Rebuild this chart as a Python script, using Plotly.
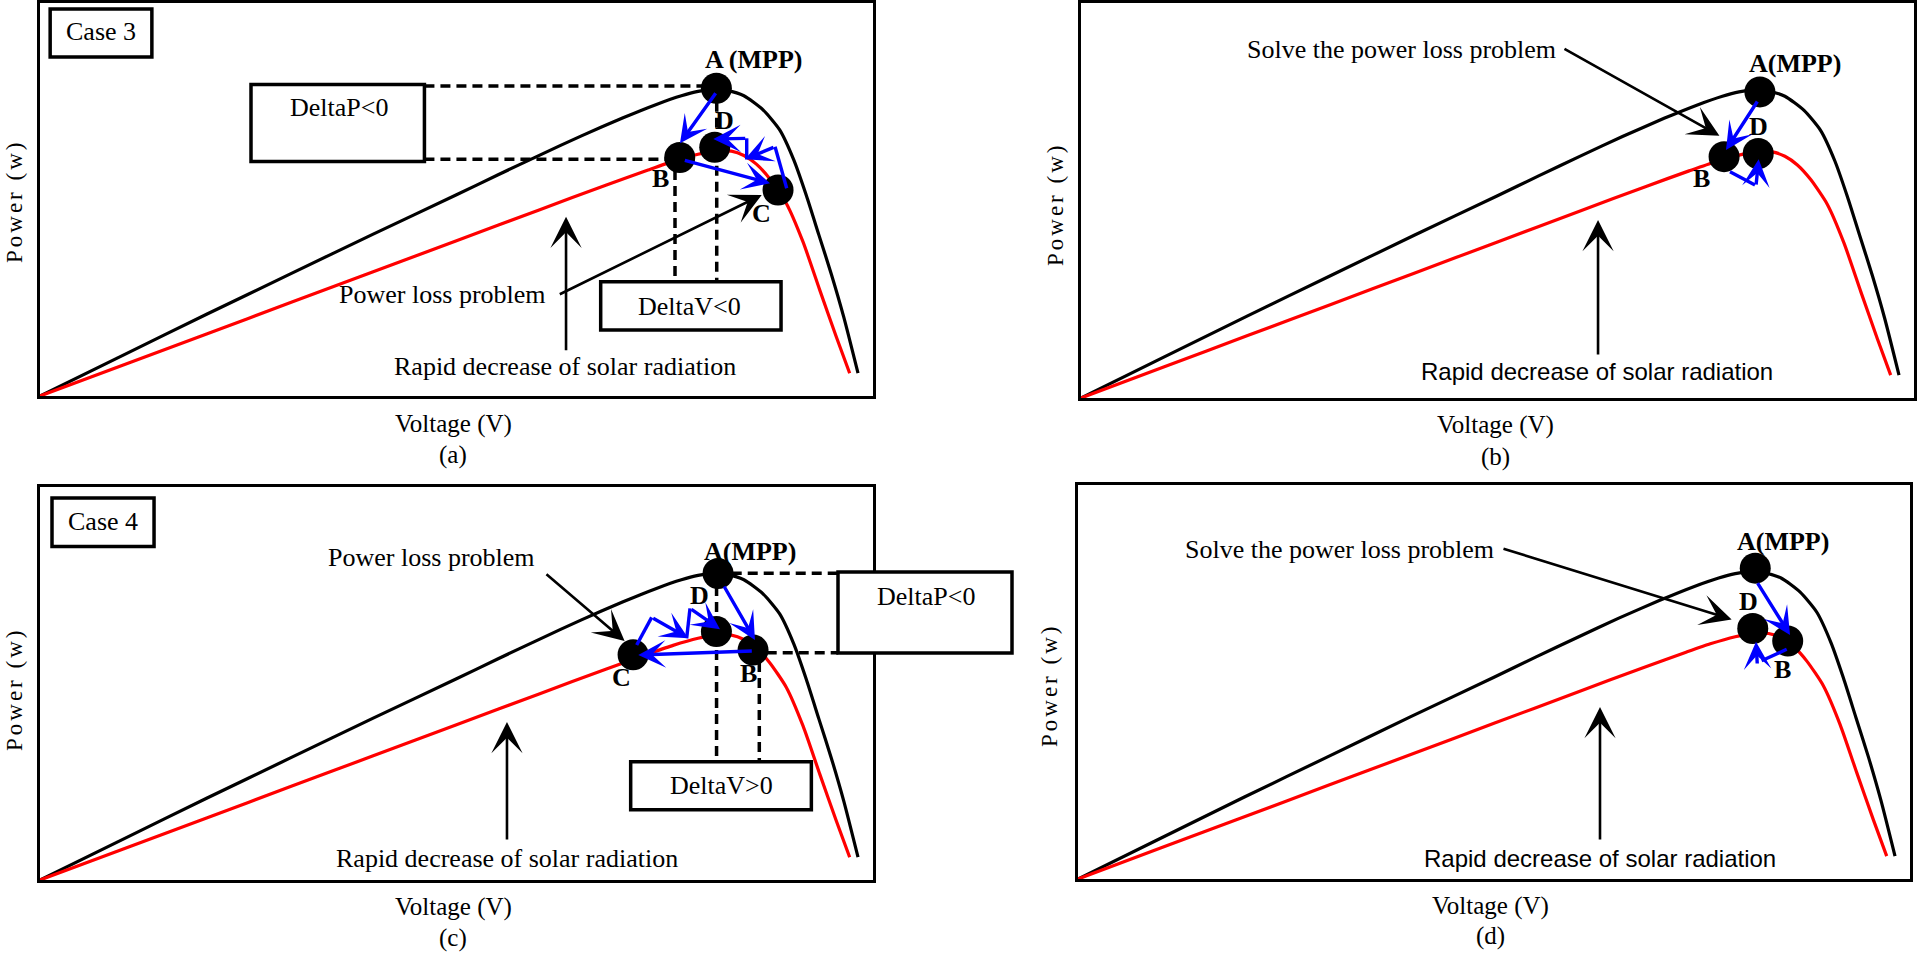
import plotly.graph_objects as go

# ---------------- data (normalised voltage / power) ----------------
v_std = [0, 0.1, 0.2, 0.3, 0.4, 0.5, 0.55, 0.6, 0.65, 0.7, 0.74, 0.77, 0.79, 0.808, 0.825, 0.845,
         0.868, 0.888, 0.905, 0.92, 0.935, 0.95, 0.965, 0.982]
p_std = [0, 0.104, 0.208, 0.31, 0.412, 0.512, 0.563, 0.613, 0.662, 0.708, 0.742, 0.764, 0.775, 0.780,
         0.777, 0.764, 0.728, 0.677, 0.60, 0.51, 0.41, 0.31, 0.20, 0.058]
v_low = [0, 0.1, 0.2, 0.3, 0.4, 0.5, 0.6, 0.68, 0.73, 0.76, 0.79, 0.81, 0.83, 0.845, 0.86, 0.876,
         0.896, 0.916, 0.936, 0.956, 0.972]
p_low = [0, 0.079, 0.158, 0.237, 0.316, 0.395, 0.474, 0.537, 0.575, 0.597, 0.615, 0.623, 0.623,
         0.612, 0.59, 0.553, 0.49, 0.392, 0.27, 0.15, 0.058]

pt_labels_a = ["A", "B", "C", "D"]
pt_v_a = [0.812, 0.768, 0.886, 0.810]
pt_p_a = [0.783, 0.607, 0.524, 0.633]
pt_labels_b = ["A", "B", "D"]
pt_v_b = [0.815, 0.772, 0.813]
pt_p_b = [0.775, 0.611, 0.619]
pt_labels_c = ["A", "B", "C", "D"]
pt_v_c = [0.814, 0.856, 0.712, 0.812]
pt_p_c = [0.780, 0.585, 0.573, 0.632]
pt_labels_d = ["A", "B", "D"]
pt_v_d = [0.814, 0.853, 0.811]
pt_p_d = [0.789, 0.604, 0.636]

# ---------------- layout helpers ----------------
W, H = 1917, 954
SERIF = "Liberation Serif, Times New Roman, serif"
SANS = "Liberation Sans, Arial, sans-serif"

# panel rectangles in pixels: left, right, top, bottom
PANELS = {
    "a": (40, 873, 3, 396, "x", "y"),
    "b": (1081, 1914, 3, 398, "x2", "y2"),
    "c": (40, 873, 487, 880, "x3", "y3"),
    "d": (1078, 1910, 485, 879, "x4", "y4"),
}

fig = go.Figure()

axis_style = dict(range=[0, 1], showgrid=False, zeroline=False, showticklabels=False,
                  ticks="", showline=True, mirror=True, linecolor="black", linewidth=3,
                  fixedrange=True)

for key, (l, r, t, b, xa, ya) in PANELS.items():
    xname = "xaxis" if xa == "x" else "xaxis" + xa[1:]
    yname = "yaxis" if ya == "y" else "yaxis" + ya[1:]
    fig.update_layout({
        xname: dict(domain=[l / W, r / W], anchor=ya, **axis_style),
        yname: dict(domain=[1 - b / H, 1 - t / H], anchor=xa, **axis_style),
    })

points = {
    "a": (pt_v_a, pt_p_a, pt_labels_a),
    "b": (pt_v_b, pt_p_b, pt_labels_b),
    "c": (pt_v_c, pt_p_c, pt_labels_c),
    "d": (pt_v_d, pt_p_d, pt_labels_d),
}

for key, (l, r, t, b, xa, ya) in PANELS.items():
    fig.add_trace(go.Scatter(x=v_std, y=p_std, mode="lines", xaxis=xa, yaxis=ya,
                             line=dict(color="black", width=3.2, shape="spline", smoothing=0.6),
                             hoverinfo="skip"))
    fig.add_trace(go.Scatter(x=v_low, y=p_low, mode="lines", xaxis=xa, yaxis=ya,
                             line=dict(color="#ff0000", width=3.2, shape="spline", smoothing=0.6),
                             hoverinfo="skip"))
    pv, pp, pl = points[key]
    fig.add_trace(go.Scatter(x=pv, y=pp, mode="markers", xaxis=xa, yaxis=ya, text=pl,
                             marker=dict(color="black", size=31), cliponaxis=False,
                             hoverinfo="text"))

annotations = []
shapes = []


def txt(key, x, y, s, size=26, bold=False, family=SERIF, ref="data", angle=0):
    xa, ya = PANELS[key][4], PANELS[key][5]
    if ref == "paper":
        xr, yr = "paper", "paper"
        x, y = x / W, 1 - y / H
    else:
        xr, yr = xa, ya
    annotations.append(dict(x=x, y=y, xref=xr, yref=yr, text=("<b>%s</b>" % s) if bold else s,
                            showarrow=False, xanchor="center", yanchor="middle", textangle=angle,
                            font=dict(family=family, size=size, color="black")))


def arrow(key, x0, y0, x1, y1, color="blue", width=3.4, size=1.35, head=3):
    xa, ya = PANELS[key][4], PANELS[key][5]
    annotations.append(dict(x=x1, y=y1, ax=x0, ay=y0, xref=xa, yref=ya, axref=xa, ayref=ya,
                            text="", showarrow=True, arrowhead=head, arrowsize=size,
                            arrowwidth=width, arrowcolor=color, standoff=0, startstandoff=0))


def seg(key, x0, y0, x1, y1, color="blue", width=3.4, dash="solid"):
    xa, ya = PANELS[key][4], PANELS[key][5]
    shapes.append(dict(type="line", xref=xa, yref=ya, x0=x0, y0=y0, x1=x1, y1=y1,
                       line=dict(color=color, width=width, dash=dash), layer="above"))


def box(key, x0, x1, y0, y1, ref="data"):
    xa, ya = PANELS[key][4], PANELS[key][5]
    if ref == "paper":
        shapes.append(dict(type="rect", xref="paper", yref="paper", x0=x0 / W, x1=x1 / W,
                           y0=1 - y0 / H, y1=1 - y1 / H, line=dict(color="black", width=3.5),
                           fillcolor="white", layer="above"))
    else:
        shapes.append(dict(type="rect", xref=xa, yref=ya, x0=x0, x1=x1, y0=y0, y1=y1,
                           line=dict(color="black", width=3.5), fillcolor="white", layer="above"))


DASH = "10px,6px"
BLK = dict(color="black", width=2.6, size=2.0)

# ---------- axis titles and captions (paper pixels) ----------
captions = {"a": (453, 424, 455, 14, 202), "b": (1495, 425, 457, 1055, 205),
            "c": (453, 907, 938, 14, 690), "d": (1490, 906, 936, 1049, 686)}
for key, (cx, vy, cy, px, py) in captions.items():
    txt(key, cx, vy, "Voltage (V)", size=25, ref="paper")
    txt(key, cx, cy, "(%s)" % key, size=25, ref="paper")
    txt(key, px, py, '<span style="letter-spacing:3px">Power (w)</span>', size=23,
        ref="paper", angle=-90)

# ---------- panel (a) ----------
box("a", 0.0122, 0.1343, 0.8626, 0.985)
txt("a", 0.0732, 0.9275, "Case 3")
box("a", 0.2533, 0.4615, 0.5964, 0.7929)
txt("a", 0.3585, 0.7338, "DeltaP&lt;0")
seg("a", 0.4615, 0.7888, 0.80, 0.7888, "black", 3.5, DASH)
seg("a", 0.4615, 0.6023, 0.7523, 0.6023, "black", 3.5, DASH)
seg("a", 0.7623, 0.575, 0.7623, 0.2908, "black", 3.5, DASH)
seg("a", 0.8124, 0.7489, 0.8124, 0.2908, "black", 3.5, DASH)
box("a", 0.6731, 0.8896, 0.1679, 0.2908)
txt("a", 0.7803, 0.2272, "DeltaV&lt;0")
txt("a", 0.856, 0.855, "A (MPP)", bold=True)
txt("a", 0.8223, 0.7023, "D", bold=True)
txt("a", 0.745, 0.554, "B", bold=True)
txt("a", 0.8664, 0.4656, "C", bold=True)
arrow("a", 0.8124, 0.7743, 0.7683, 0.643)
arrow("a", 0.7723, 0.6005, 0.8764, 0.5412)
seg("a", 0.8964, 0.5285, 0.8824, 0.6344)
arrow("a", 0.8824, 0.6344, 0.8463, 0.6023)
seg("a", 0.8484, 0.6023, 0.8484, 0.6557)
arrow("a", 0.8484, 0.6557, 0.8083, 0.654)
arrow("a", 0.6222, 0.257, 0.8664, 0.5115, **BLK)
txt("a", 0.4826, 0.2578, "Power loss problem")
arrow("a", 0.6315, 0.1127, 0.6315, 0.4562, **BLK)
txt("a", 0.6298, 0.0748, "Rapid decrease of solar radiation")

# ---------- panel (b) ----------
txt("b", 0.8568, 0.848, "A(MPP)", bold=True)
txt("b", 0.8131, 0.6868, "D", bold=True)
txt("b", 0.7451, 0.5562, "B", bold=True)
arrow("b", 0.8131, 0.7544, 0.7743, 0.6278)
seg("b", 0.7791, 0.5729, 0.8091, 0.5392)
arrow("b", 0.8103, 0.5367, 0.8135, 0.6043)
arrow("b", 0.5786, 0.8861, 0.7664, 0.6638, **BLK)
txt("b", 0.3842, 0.8835, "Solve the power loss problem")
arrow("b", 0.6207, 0.1063, 0.6207, 0.4506, **BLK)
txt("b", 0.6195, 0.0671, "Rapid decrease of solar radiation", size=24, family=SANS)

# ---------- panel (c) ----------
box("c", 0.0144, 0.1369, 0.8486, 0.9723)
txt("c", 0.0755, 0.9117, "Case 4")
seg("c", 0.8304, 0.7804, 0.9583, 0.7804, "black", 3.5, DASH)
seg("c", 0.8724, 0.5784, 0.9583, 0.5784, "black", 3.5, DASH)
seg("c", 0.8122, 0.7481, 0.8122, 0.3003, "black", 3.5, DASH)
seg("c", 0.8635, 0.5547, 0.8635, 0.3003, "black", 3.5, DASH)
box("c", 0.7091, 0.926, 0.1786, 0.3008)
txt("c", 0.818, 0.2402, "DeltaV&gt;0")
box("c", 838, 1012, 572, 653, ref="paper")
txt("c", 926, 596, "DeltaP&lt;0", ref="paper")
txt("c", 0.8523, 0.8354, "A(MPP)", bold=True)
txt("c", 0.7923, 0.7252, "D", bold=True)
txt("c", 0.85, 0.5242, "B", bold=True)
txt("c", 0.6981, 0.5165, "C", bold=True)
arrow("c", 0.8203, 0.7506, 0.8583, 0.6107)
arrow("c", 0.8563, 0.5827, 0.7182, 0.5725)
seg("c", 0.7163, 0.598, 0.7343, 0.6684)
arrow("c", 0.7343, 0.6684, 0.7783, 0.615)
seg("c", 0.7763, 0.615, 0.7803, 0.6913)
arrow("c", 0.7803, 0.6913, 0.8163, 0.6379)
arrow("c", 0.6062, 0.7812, 0.7018, 0.6081, **BLK)
txt("c", 0.4702, 0.8206, "Power loss problem")
arrow("c", 0.5606, 0.0992, 0.5606, 0.402, **BLK)
txt("c", 0.5606, 0.0547, "Rapid decrease of solar radiation")

# ---------- panel (d) ----------
txt("d", 0.8477, 0.8561, "A(MPP)", bold=True)
txt("d", 0.8057, 0.7038, "D", bold=True)
txt("d", 0.847, 0.5305, "B", bold=True)
arrow("d", 0.8157, 0.7546, 0.8558, 0.6193)
seg("d", 0.8518, 0.583, 0.8217, 0.554)
arrow("d", 0.8165, 0.5431, 0.8149, 0.6023)
arrow("d", 0.5096, 0.8396, 0.7856, 0.6589, **BLK)
txt("d", 0.3145, 0.8371, "Solve the power loss problem")
arrow("d", 0.6274, 0.0964, 0.6274, 0.4365, **BLK)
txt("d", 0.6274, 0.052, "Rapid decrease of solar radiation", size=24, family=SANS)

fig.update_layout(width=W, height=H, margin=dict(l=0, r=0, t=0, b=0),
                  paper_bgcolor="white", plot_bgcolor="white", showlegend=False,
                  annotations=annotations, shapes=shapes)

fig.write_html("out.html", config={"displayModeBar": False},
               post_script="document.body.style.margin='0';document.body.style.overflow='hidden';")
